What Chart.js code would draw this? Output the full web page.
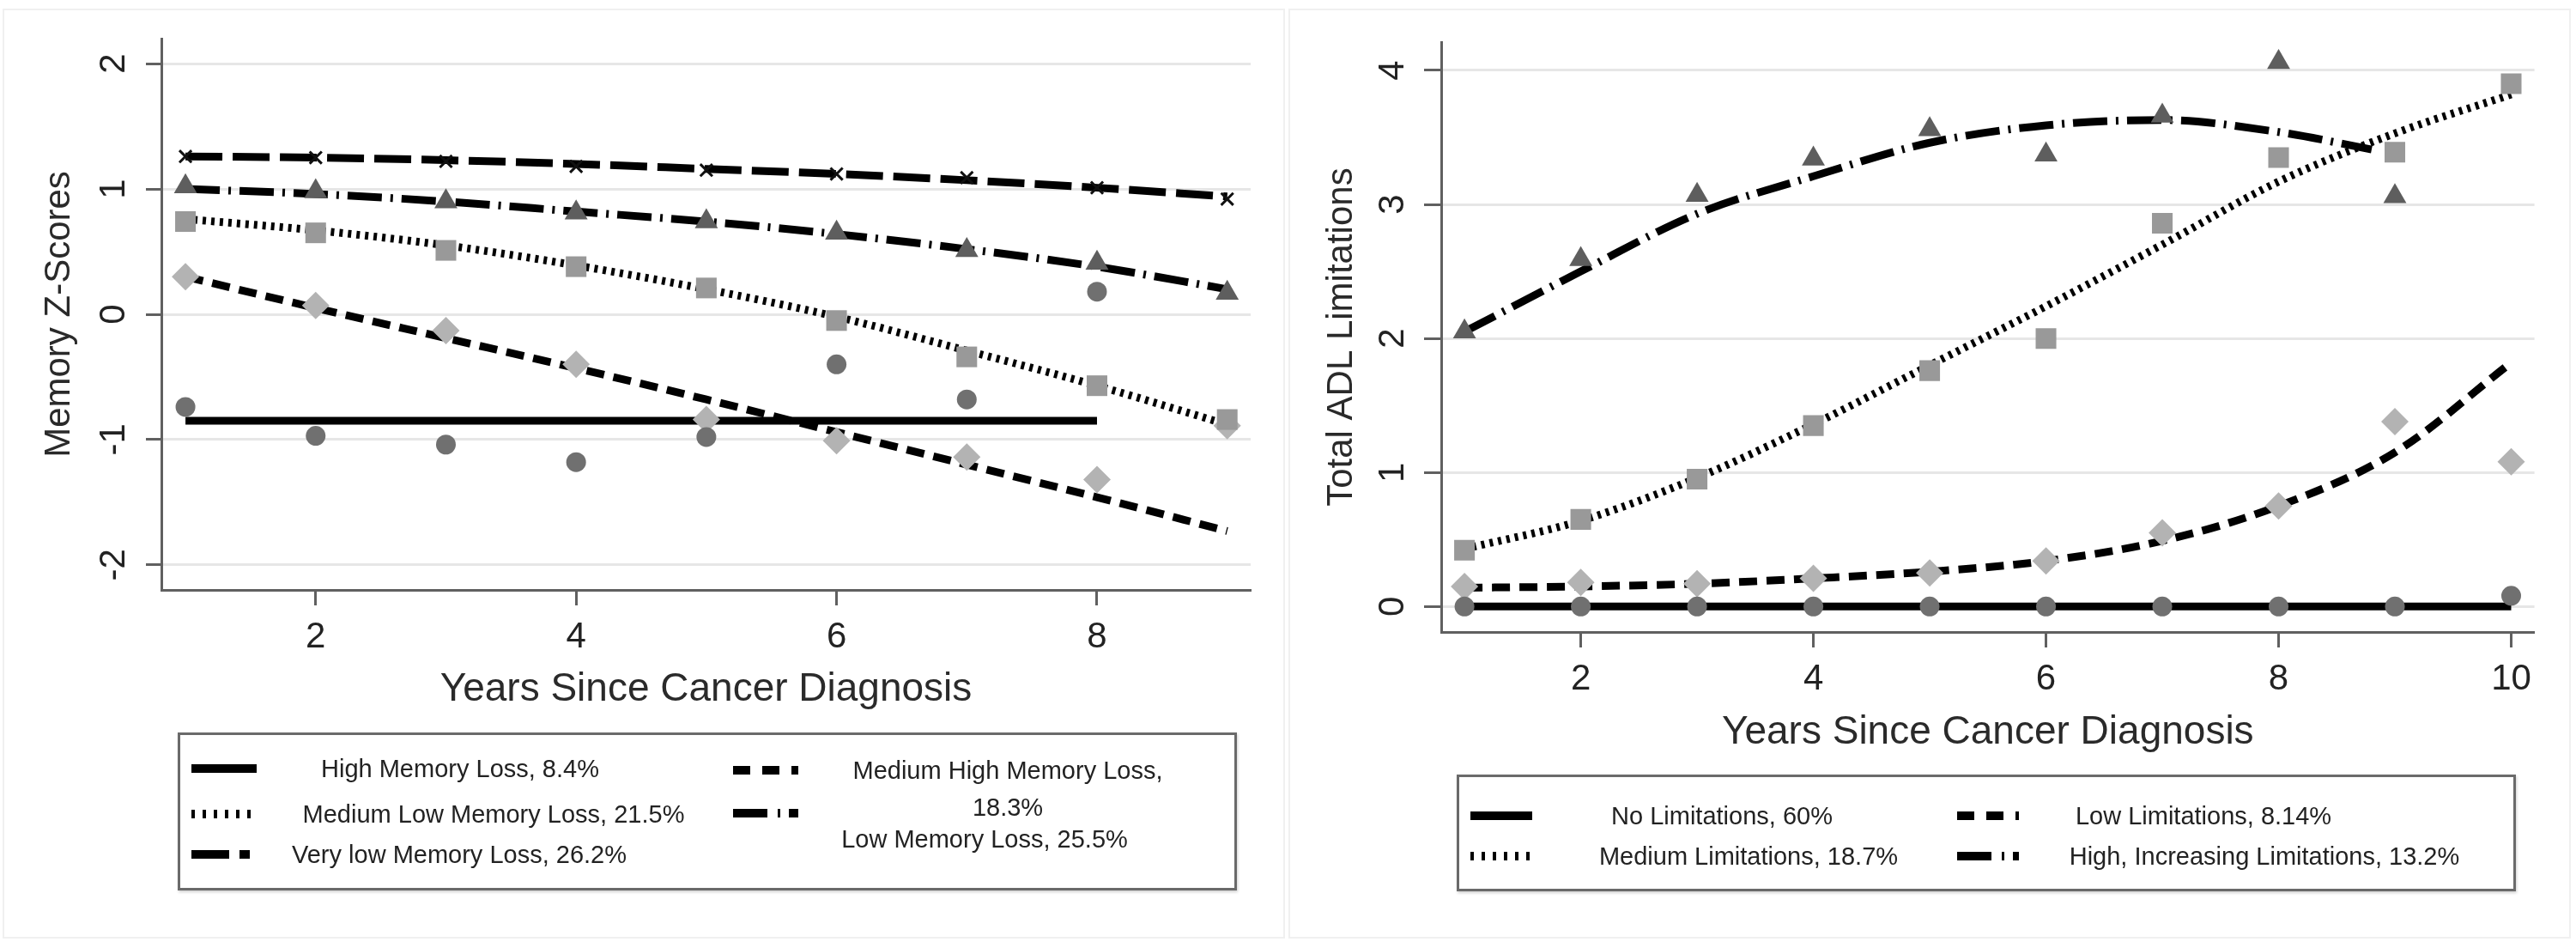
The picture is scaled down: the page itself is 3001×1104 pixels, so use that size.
<!DOCTYPE html>
<html lang="en">
<head>
<meta charset="utf-8">
<title>Memory and ADL trajectories since cancer diagnosis</title>
<script src="https://cdn.jsdelivr.net/npm/chart.js"></script>
<style>
  html, body { margin: 0; padding: 0; background: #fff; }
  #page { position: relative; width: 3001px; height: 1104px; overflow: hidden; font-family: "Liberation Sans", Arial, sans-serif; }
  .panel { position: absolute; top: 10px; width: 1494px; height: 1083px; border: 2px solid #f0f0f0; box-sizing: border-box; }
  canvas { position: absolute; top: 0; }
  .legendBox { position: absolute; border: 3px solid #6a6a6a; box-sizing: border-box; box-shadow: 1px 2px 3px rgba(0, 0, 0, 0.18); }
  .sample { position: absolute; }
  .label { position: absolute; font-size: 29px; color: #222; white-space: nowrap; transform: translate(-50%, -50%); line-height: 1; }
</style>
</head>
<body>
<div id="page">
  <div class="panel" style="left:3px"></div>
  <div class="panel" style="left:1501px"></div>
  <canvas id="memChart" width="1500" height="880" style="left:0px"></canvas>
  <canvas id="adlChart" width="1500" height="930" style="left:1500px"></canvas>
</div>
<script>
// ---- Left panel: memory z-score trajectories ----
const memYears = [1, 2, 3, 4, 5, 6, 7, 8, 9];
const memXTicks = [2, 4, 6, 8];
const memYTicks = [-2, -1, 0, 1, 2];
const memNames = [
  "High Memory Loss, 8.4%",
  "Medium Low Memory Loss, 21.5%",
  "Very low Memory Loss, 26.2%",
  "Medium High Memory Loss, 18.3%",
  "Low Memory Loss, 25.5%",
];

// observed class means (markers)
const memHighObs = [-0.74, -0.97, -1.04, -1.18, -0.98, -0.40, -0.68, 0.18];
const memMedLowObs = [0.74, 0.65, 0.51, 0.38, 0.21, -0.05, -0.34, -0.57, -0.84];
const memVeryLowObs = [1.26, 1.25, 1.22, 1.18, 1.15, 1.12, 1.09, 1.01, 0.92];
const memMedHighObs = [0.30, 0.07, -0.13, -0.40, -0.84, -1.01, -1.14, -1.32, -0.89];
const memLowObs = [1.02, 0.98, 0.90, 0.81, 0.74, 0.65, 0.51, 0.41, 0.17];

// fitted trajectories (lines)
const memHighFit = [-0.85, -0.85, -0.85, -0.85, -0.85, -0.85, -0.85, -0.85];
const memMedLowFit = [0.76, 0.67, 0.55, 0.39, 0.20, -0.02, -0.29, -0.57, -0.88];
const memVeryLowFit = [1.26, 1.25, 1.23, 1.20, 1.16, 1.12, 1.07, 1.01, 0.94];
const memMedHighFit = [0.30, 0.05, -0.19, -0.43, -0.68, -0.94, -1.20, -1.46, -1.73];
const memLowFit = [1.00, 0.96, 0.90, 0.82, 0.74, 0.64, 0.52, 0.38, 0.20];

// ---- Right panel: total ADL limitation trajectories ----
const adlYears = [1, 2, 3, 4, 5, 6, 7, 8, 9, 10];
const adlHighFitYears = [1, 2, 3, 4, 5, 6, 7, 8, 8.8];
const adlXTicks = [2, 4, 6, 8, 10];
const adlYTicks = [0, 1, 2, 3, 4];
const adlNames = [
  "No Limitations, 60%",
  "Medium Limitations, 18.7%",
  "Low Limitations, 8.14%",
  "High, Increasing Limitations, 13.2%",
];

const adlNoneObs = [0, 0, 0, 0, 0, 0, 0, 0, 0, 0.08];
const adlMediumObs = [0.42, 0.65, 0.95, 1.35, 1.76, 2.00, 2.86, 3.35, 3.39, 3.90];
const adlLowObs = [0.15, 0.18, 0.17, 0.21, 0.25, 0.34, 0.55, 0.75, 1.38, 1.08];
const adlHighObs = [2.05, 2.59, 3.07, 3.34, 3.56, 3.37, 3.66, 4.06, 3.06];

const adlNoneFit = [0, 0, 0, 0, 0, 0, 0, 0, 0, 0];
const adlMediumFit = [0.43, 0.64, 0.96, 1.36, 1.80, 2.24, 2.70, 3.17, 3.53, 3.82];
const adlLowFit = [0.14, 0.15, 0.17, 0.21, 0.26, 0.34, 0.49, 0.75, 1.15, 1.82];
const adlHighFit = [2.05, 2.50, 2.93, 3.21, 3.46, 3.59, 3.63, 3.54, 3.41];

// ---- styling ----
const axisGray = "#606060";
const gridGray = "#e6e6e6";
Chart.defaults.font.family = '"Liberation Sans", Arial, sans-serif';

const markerSet = {
  circle: { pointStyle: "circle", pointRadius: 11.5, pointBackgroundColor: "#707070", pointBorderWidth: 0 },
  square: { pointStyle: "rect", pointRadius: 17, pointBackgroundColor: "#999999", pointBorderWidth: 0 },
  diamond: { pointStyle: "rectRot", pointRadius: 16, pointBackgroundColor: "#b3b3b3", pointBorderWidth: 0 },
  triangle: { pointStyle: "triangle", pointRadius: 15.5, pointBackgroundColor: "#5e5e5e", pointBorderWidth: 0 },
  cross: { pointStyle: "crossRot", pointRadius: 10, pointBorderColor: "#111111", pointBorderWidth: 3 },
};

// dash patterns for the plot lines and for the legend samples
const dashSet = { solid: [], dotted: [4, 6], longdash: [43, 12], dash: [21, 11], dashdot: [40, 10, 3, 10] };
const sampleDash = { solid: "", dotted: "4 9", longdash: "44 12 12 20", dash: "20 14", dashdot: "40 12 3 10" };

const pts = (xs, ys) => ys.map((y, i) => ({ x: xs[i], y: y }));

// marker-only dataset
const markerSeries = (xs, ys, marker) => ({
  data: pts(xs, ys),
  showLine: false,
  ...markerSet[marker],
});

// fitted line dataset
const lineSeries = (xs, ys, dash) => ({
  data: pts(xs, ys),
  showLine: true,
  borderColor: "#000000",
  borderWidth: 9,
  borderDash: dashSet[dash],
  borderCapStyle: "butt",
  cubicInterpolationMode: "monotone",
  pointRadius: 0,
});

// builds scales so that the plot area sits where the reference has it
const makeOptions = (cfg) => ({
  responsive: false,
  animation: false,
  events: [],
  layout: { padding: { left: 0, top: cfg.area.top, right: cfg.width - cfg.area.right, bottom: 0 } },
  plugins: { legend: { display: false }, tooltip: { enabled: false } },
  scales: {
    x: {
      type: "linear",
      min: cfg.xMin,
      max: cfg.xMax,
      afterBuildTicks: (scale) => { scale.ticks = cfg.xTicks.map((v) => ({ value: v })); },
      afterFit: (scale) => { scale.height = cfg.height - cfg.area.bottom; },
      grid: { drawOnChartArea: false, drawTicks: true, tickLength: 18, tickWidth: 3, tickColor: axisGray },
      border: { display: true, color: axisGray, width: 3 },
      ticks: { color: "#222", font: { size: 42 }, padding: 12, minRotation: 0, maxRotation: 0, callback: (v) => String(v) },
      title: { display: true, text: "Years Since Cancer Diagnosis", color: "#2a2a2a", font: { size: 46 }, padding: { top: 0, bottom: 49 } },
    },
    y: {
      type: "linear",
      min: cfg.yMin,
      max: cfg.yMax,
      afterBuildTicks: (scale) => { scale.ticks = cfg.yTicks.map((v) => ({ value: v })); },
      afterFit: (scale) => { scale.width = cfg.area.left; },
      grid: { color: gridGray, lineWidth: 3, drawTicks: true, tickLength: cfg.yTickLen, tickWidth: 3, tickColor: axisGray },
      border: { display: true, color: axisGray, width: 3 },
      ticks: { color: "#222", font: { size: 42 }, padding: cfg.yTickPad, minRotation: 90, maxRotation: 90, crossAlign: "center", callback: (v) => String(v) },
      title: { display: true, text: cfg.yTitle, color: "#2a2a2a", font: { size: 42 }, padding: { top: cfg.yTitlePad, bottom: 0 } },
    },
  },
});

// legend drawn as html text with svg line samples
const page = document.getElementById("page");

const addLegendBox = (left, top, right, bottom) => {
  const box = document.createElement("div");
  box.className = "legendBox";
  box.style.left = left + "px";
  box.style.top = top + "px";
  box.style.width = (right - left) + "px";
  box.style.height = (bottom - top) + "px";
  page.appendChild(box);
};

const addSample = (x, y, width, dash) => {
  const ns = "http://www.w3.org/2000/svg";
  const svg = document.createElementNS(ns, "svg");
  svg.setAttribute("class", "sample");
  svg.setAttribute("width", width);
  svg.setAttribute("height", 12);
  svg.style.left = x + "px";
  svg.style.top = (y - 6) + "px";
  const line = document.createElementNS(ns, "line");
  line.setAttribute("x1", 0);
  line.setAttribute("y1", 6);
  line.setAttribute("x2", width);
  line.setAttribute("y2", 6);
  line.setAttribute("stroke", "#000");
  line.setAttribute("stroke-width", 10);
  if (sampleDash[dash]) line.setAttribute("stroke-dasharray", sampleDash[dash]);
  svg.appendChild(line);
  page.appendChild(svg);
};

const addLabel = (text, cx, cy) => {
  const span = document.createElement("span");
  span.className = "label";
  span.textContent = text;
  span.style.left = cx + "px";
  span.style.top = cy + "px";
  page.appendChild(span);
};

// ---- left chart ----
new Chart(document.getElementById("memChart"), {
  type: "scatter",
  data: {
    datasets: [
      markerSeries(memYears, memHighObs, "circle"),
      markerSeries(memYears, memMedLowObs, "square"),
      markerSeries(memYears, memVeryLowObs, "cross"),
      markerSeries(memYears, memMedHighObs, "diamond"),
      markerSeries(memYears, memLowObs, "triangle"),
      lineSeries(memYears, memHighFit, "solid"),
      lineSeries(memYears, memMedLowFit, "dotted"),
      lineSeries(memYears, memVeryLowFit, "longdash"),
      lineSeries(memYears, memMedHighFit, "dash"),
      lineSeries(memYears, memLowFit, "dashdot"),
    ],
  },
  options: makeOptions({
    width: 1500, height: 880,
    area: { left: 188, top: 45, right: 1457, bottom: 687 },
    xMin: 0.815, xMax: 9.18, yMin: -2.2, yMax: 2.2,
    xTicks: memXTicks, yTicks: memYTicks,
    yTitle: "Memory Z-Scores", yTitlePad: 44, yTickPad: 18, yTickLen: 18,
  }),
});

// ---- right chart ----
new Chart(document.getElementById("adlChart"), {
  type: "scatter",
  data: {
    datasets: [
      markerSeries(adlYears, adlNoneObs, "circle"),
      markerSeries(adlYears, adlMediumObs, "square"),
      markerSeries(adlYears, adlLowObs, "diamond"),
      markerSeries(adlYears, adlHighObs, "triangle"),
      lineSeries(adlYears, adlNoneFit, "solid"),
      lineSeries(adlYears, adlMediumFit, "dotted"),
      lineSeries(adlYears, adlLowFit, "dash"),
      lineSeries(adlHighFitYears, adlHighFit, "dashdot"),
    ],
  },
  options: makeOptions({
    width: 1500, height: 930,
    area: { left: 179, top: 46, right: 1452.6, bottom: 736 },
    xMin: 0.8, xMax: 10.2, yMin: -0.19, yMax: 4.21,
    xTicks: adlXTicks, yTicks: adlYTicks,
    yTitle: "Total ADL Limitations", yTitlePad: 38, yTickPad: 24, yTickLen: 20,
  }),
});

// ---- legends ----
addLegendBox(207, 853, 1441, 1037);
addSample(223, 895, 76, "solid");
addSample(223, 948, 76, "dotted");
addSample(223, 995, 76, "longdash");
addSample(854, 897, 76, "dash");
addSample(854, 947, 76, "dashdot");
addLabel(memNames[0], 536, 895);
addLabel(memNames[1], 575, 948);
addLabel(memNames[2], 535, 995);
// the medium high entry wraps onto two lines in the reference
const medHighParts = memNames[3].split(" 18.3%");
addLabel(medHighParts[0], 1174, 897);
addLabel("18.3%", 1174, 940);
addLabel(memNames[4], 1147, 977);

addLegendBox(1697, 902, 2931, 1038);
addSample(1713, 950, 72, "solid");
addSample(1713, 997, 72, "dotted");
addSample(2280, 950, 72, "dash");
addSample(2280, 997, 72, "dashdot");
addLabel(adlNames[0], 2006, 950);
addLabel(adlNames[1], 2037, 997);
addLabel(adlNames[2], 2567, 950);
addLabel(adlNames[3], 2638, 997);
</script>
</body>
</html>
